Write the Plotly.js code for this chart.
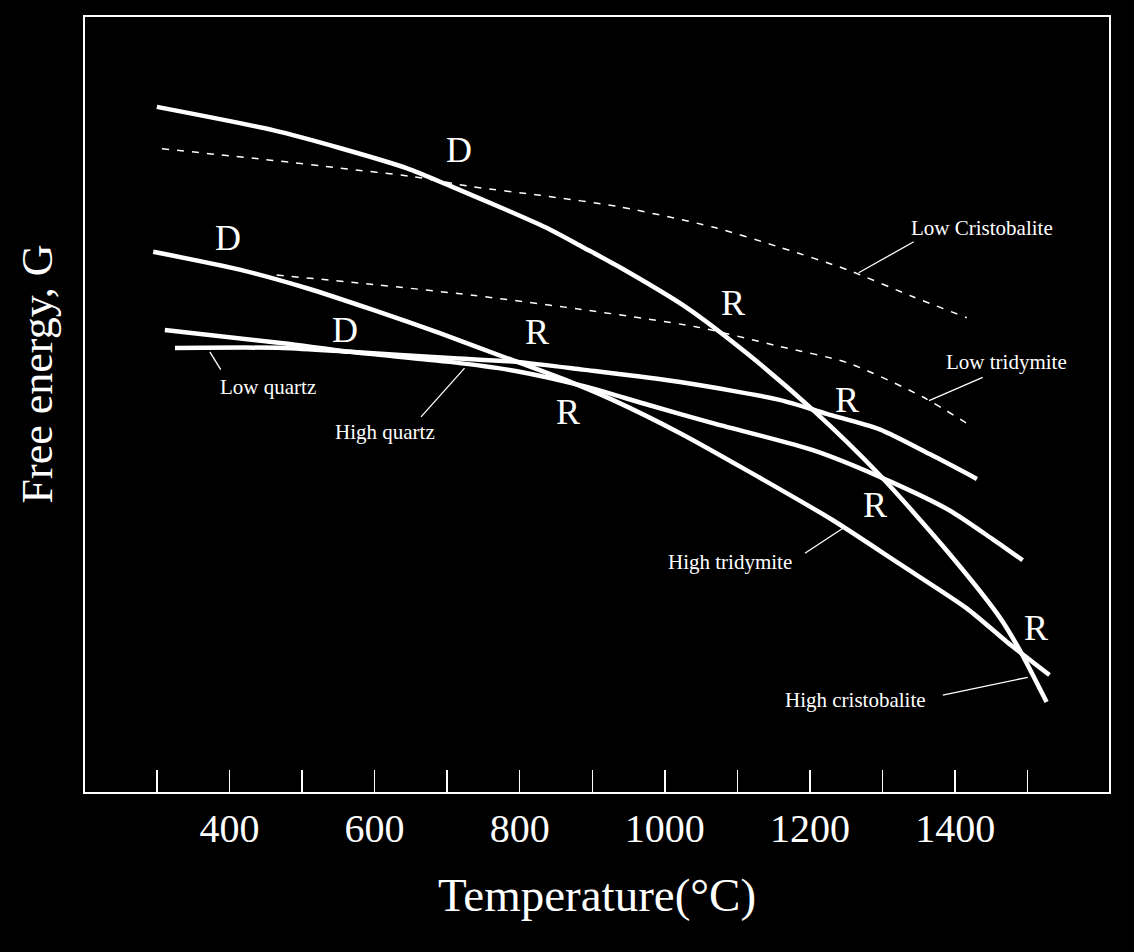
<!DOCTYPE html>
<html>
<head>
<meta charset="utf-8">
<script src="https://cdn.plot.ly/plotly-3.0.1.min.js"></script>
<style>
  html, body { margin: 0; padding: 0; background: #000; }
  #plot { width: 1134px; height: 952px; }
</style>
</head>
<body>
<div id="plot"></div>
<script>
// free energy curves for the SiO2 polymorphs (G in arbitrary units)
var tHighCrist = [300, 460, 552, 644, 704, 782, 837, 887, 938, 1030, 1113, 1204, 1296, 1388, 1461, 1489, 1526];
var gHighCrist = [88.4, 85.4, 83.1, 80.5, 78.2, 75.1, 72.8, 70.3, 67.7, 62.5, 56.6, 49.3, 40.9, 31.2, 22.6, 18.3, 11.6];

var tLowCrist = [307, 460, 552, 653, 735, 828, 938, 1066, 1158, 1251, 1342, 1416];
var gLowCrist = [83.0, 81.5, 80.5, 79.4, 78.1, 77.0, 75.5, 72.9, 70.3, 67.4, 63.9, 61.2];

var tHighTrid = [295, 414, 507, 598, 690, 782, 873, 928, 1021, 1113, 1231, 1324, 1416, 1471, 1530];
var gHighTrid = [69.7, 67.4, 65.0, 62.2, 59.2, 56.0, 52.8, 50.6, 46.3, 41.5, 35.1, 29.4, 23.7, 19.4, 15.1];

var tLowTrid = [465, 598, 735, 883, 1044, 1158, 1251, 1355, 1424];
var gLowTrid = [66.7, 65.5, 64.1, 62.3, 60.0, 57.5, 55.4, 51.0, 47.1];

var tLowQuartz = [325, 474, 566, 704, 796, 887, 1021, 1158, 1223, 1296, 1365, 1430];
var gLowQuartz = [57.3, 57.3, 56.8, 56.0, 55.5, 54.5, 52.9, 50.6, 48.8, 46.8, 43.6, 40.4];

var tHighQuartz = [311, 474, 566, 704, 796, 887, 979, 1066, 1204, 1300, 1393, 1452, 1493];
var gHighQuartz = [59.6, 57.9, 56.8, 55.5, 54.3, 52.4, 49.9, 47.6, 44.1, 40.5, 36.3, 32.6, 29.9];

var tickVals = [300, 400, 500, 600, 700, 800, 900, 1000, 1100, 1200, 1300, 1400, 1500];
var tickText = ["", "400", "", "600", "", "800", "", "1000", "", "1200", "", "1400", ""];

var serif = "Liberation Serif, Times New Roman, serif";

function solid(x, y) {
  return { x: x, y: y, mode: "lines", type: "scatter", hoverinfo: "skip",
           line: { color: "white", width: 4.5, shape: "spline", smoothing: 0.7 } };
}
function dashed(x, y) {
  return { x: x, y: y, mode: "lines", type: "scatter", hoverinfo: "skip",
           line: { color: "white", width: 1.5, dash: "7px,8px", shape: "spline", smoothing: 0.7 } };
}

var traces = [
  solid(tHighCrist, gHighCrist),
  dashed(tLowCrist, gLowCrist),
  solid(tHighTrid, gHighTrid),
  dashed(tLowTrid, gLowTrid),
  solid(tLowQuartz, gLowQuartz),
  solid(tHighQuartz, gHighQuartz)
];

function letter(txt, x, y) {
  return { text: txt, x: x, y: y, xref: "x", yref: "y", showarrow: false,
           font: { family: serif, size: 36, color: "white" } };
}
function label(txt, x, y) {
  return { text: txt, x: x, y: y, xref: "x", yref: "y", showarrow: false,
           font: { family: serif, size: 21, color: "white" } };
}
function leader(x0, y0, x1, y1) {
  return { type: "line", xref: "x", yref: "y", x0: x0, y0: y0, x1: x1, y1: y1,
           line: { color: "white", width: 1.3 } };
}

var annotations = [
  letter("D", 717, 82.8),
  letter("D", 398, 71.5),
  letter("D", 559, 59.6),
  letter("R", 824, 59.4),
  letter("R", 866, 49.0),
  letter("R", 1094, 63.1),
  letter("R", 1251, 50.6),
  letter("R", 1289, 37.0),
  letter("R", 1512, 21.2),
  label("Low Cristobalite", 1437, 72.8),
  label("Low tridymite", 1471, 55.5),
  label("Low quartz", 453, 52.3),
  label("High quartz", 615, 46.5),
  label("High tridymite", 1090, 29.7),
  label("High cristobalite", 1262, 11.9),
  // y axis title, placed by hand to sit where the original one is
  { text: "Free energy, G", xref: "paper", yref: "paper", x: -0.046, y: 0.54,
    xanchor: "center", yanchor: "middle",
    textangle: -90, showarrow: false, font: { family: serif, size: 44, color: "white" } }
];

var shapes = [
  leader(1343, 71.0, 1267, 67.0),
  leader(1438, 53.5, 1364, 50.5),
  leader(373, 56.8, 388, 54.5),
  leader(724, 54.7, 664, 48.4),
  leader(1248, 34.2, 1193, 30.8),
  leader(1500, 14.8, 1383, 12.5)
];

var layout = {
  width: 1134,
  height: 952,
  paper_bgcolor: "black",
  plot_bgcolor: "black",
  showlegend: false,
  margin: { l: 85, r: 25, t: 17, b: 160 },
  font: { family: serif, color: "white" },
  xaxis: {
    range: [201, 1612],
    tickvals: tickVals,
    ticktext: tickText,
    ticks: "inside",
    ticklen: 22,
    tickwidth: 1.5,
    tickcolor: "white",
    tickfont: { family: serif, size: 40, color: "white" },
    showgrid: false,
    zeroline: false,
    showline: true,
    linecolor: "white",
    linewidth: 2,
    mirror: true,
    title: { text: "Temperature(°C)", font: { family: serif, size: 47, color: "white" }, standoff: 28 }
  },
  yaxis: {
    range: [0, 100],
    showticklabels: false,
    ticks: "",
    showgrid: false,
    zeroline: false,
    showline: true,
    linecolor: "white",
    linewidth: 2,
    mirror: true
  },
  annotations: annotations,
  shapes: shapes
};

Plotly.newPlot("plot", traces, layout, { displayModeBar: false, staticPlot: true });
</script>
</body>
</html>
